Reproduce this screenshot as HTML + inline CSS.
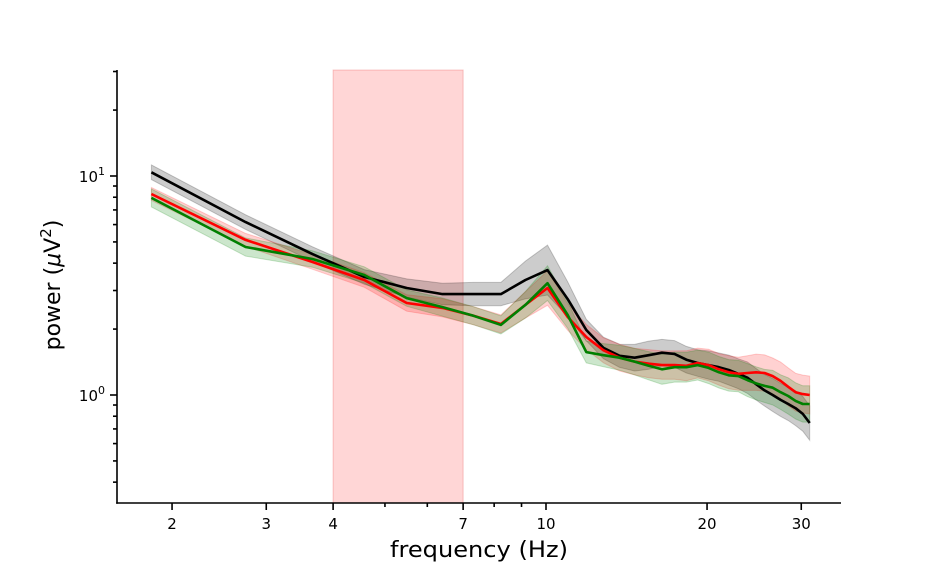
<!DOCTYPE html>
<html><head><meta charset="utf-8">
<style>
html,body{margin:0;padding:0;background:#fff;}
svg{display:block;font-family:"DejaVu Sans","Liberation Sans",sans-serif;}
</style></head>
<body>
<svg id="chart" width="936" height="576" viewBox="0 0 936 576" xmlns="http://www.w3.org/2000/svg">
<g id="bands"></g>
<g id="lines"></g>
<g id="axes"></g>
<text x="479" y="557" font-size="22" text-anchor="middle" textLength="178" lengthAdjust="spacingAndGlyphs">frequency (Hz)</text>
<text transform="translate(60,285) rotate(-90)" font-size="22" text-anchor="middle">power (<tspan font-style="italic">μ</tspan>V<tspan font-size="15" dy="-9">2</tspan><tspan dy="9">)</tspan></text>
</svg>
<script>
const freqStep = 0.915;
const freqIndex = [2,3,4,5,6,7,8,9,10,11,12,13,14,15,16,17,18,19,20,21,22,23,24,25,26,27,28,29,30,31,32,33,34];
const blackVals = [10.4,6.16,4.40,3.46,3.08,2.89,2.89,2.89,3.35,3.72,2.74,1.98,1.64,1.51,1.48,1.52,1.56,1.54,1.45,1.40,1.37,1.34,1.30,1.25,1.20,1.12,1.05,1.00,0.95,0.91,0.87,0.82,0.745];
const redVals = [8.28,5.11,4.05,3.35,2.63,2.50,2.30,2.11,2.58,3.08,2.27,1.84,1.60,1.48,1.42,1.39,1.37,1.37,1.36,1.40,1.37,1.31,1.27,1.25,1.26,1.27,1.26,1.22,1.16,1.09,1.03,1.01,1.00];
const greenVals = [7.94,4.74,4.18,3.53,2.77,2.52,2.30,2.09,2.58,3.24,2.32,1.57,1.52,1.48,1.42,1.36,1.31,1.34,1.34,1.37,1.33,1.27,1.23,1.22,1.17,1.13,1.10,1.08,1.03,0.99,0.94,0.91,0.91];
const blackErr = [1.08,1.08,1.08,1.08,1.10,1.12,1.13,1.13,1.22,1.30,1.20,1.12,1.12,1.13,1.15,1.16,1.15,1.15,1.15,1.15,1.16,1.16,1.17,1.17,1.18,1.18,1.18,1.19,1.19,1.19,1.20,1.20,1.20];
const redErr = [1.07,1.07,1.08,1.08,1.09,1.10,1.10,1.10,1.15,1.20,1.15,1.14,1.14,1.15,1.15,1.16,1.16,1.16,1.17,1.17,1.18,1.18,1.19,1.19,1.20,1.21,1.21,1.21,1.22,1.22,1.22,1.22,1.22];
const greenErr = [1.10,1.10,1.09,1.09,1.09,1.10,1.10,1.10,1.15,1.20,1.15,1.12,1.13,1.14,1.15,1.16,1.17,1.17,1.17,1.17,1.18,1.18,1.18,1.18,1.19,1.19,1.19,1.20,1.20,1.21,1.21,1.21,1.21];
const bandRange = [4,7];
const xTickLabels = [2,3,4,7,10,20,30];
const xMinorTicks = [5,6,8,9];
const yMajorTicks = [1,10];
const yMinorTicks = [0.4,0.5,0.6,0.7,0.8,0.9,2,3,4,5,6,7,8,9,20,30];

const NS="http://www.w3.org/2000/svg";
const L=117,R=841,T=70,B=503;
function xs(f){return 546+535*Math.log10(f/10);}
function ys(v){return 395-219*Math.log10(v);}
function mk(tag,parent){const e=document.createElementNS(NS,tag);parent.appendChild(e);return e;}
const bands=document.getElementById('bands'),lines=document.getElementById('lines'),axes=document.getElementById('axes');
const freqs=freqIndex.map(k=>k*freqStep);

const hb=mk('rect',bands);


hb.setAttribute('x',xs(bandRange[0]));hb.setAttribute('y',T);
hb.setAttribute('width',xs(bandRange[1])-xs(bandRange[0]));hb.setAttribute('height',B-T);
hb.setAttribute('fill','rgba(255,0,0,0.16)');hb.setAttribute('stroke','rgba(220,0,0,0.2)');

const series=[
 {name:'black',vals:blackVals,err:blackErr,col:'#000',fill:'rgba(0,0,0,0.2)'},
 {name:'red',vals:redVals,err:redErr,col:'#ff0000',fill:'rgba(255,0,0,0.18)'},
 {name:'green',vals:greenVals,err:greenErr,col:'#008000',fill:'rgba(0,128,0,0.2)'}
];
series.forEach(s=>{
  const up=freqs.map((f,i)=>xs(f).toFixed(1)+','+ys(s.vals[i]*s.err[i]).toFixed(1));
  const lo=freqs.map((f,i)=>xs(f).toFixed(1)+','+ys(s.vals[i]/s.err[i]).toFixed(1)).reverse();
  const p=mk('polygon',bands);
  
  
  p.setAttribute('points',up.concat(lo).join(' '));
  p.setAttribute('fill',s.fill);p.setAttribute('stroke',s.fill);
  const l=mk('polyline',lines);
  
  
  l.setAttribute('points',freqs.map((f,i)=>xs(f).toFixed(1)+','+ys(s.vals[i]).toFixed(1)).join(' '));
  l.setAttribute('fill','none');l.setAttribute('stroke',s.col);l.setAttribute('stroke-width','2.6');l.setAttribute('stroke-linejoin','round');
});

function line(x1,y1,x2,y2,name){const e=mk('line',axes);
  
  
  e.setAttribute('x1',x1);e.setAttribute('y1',y1);e.setAttribute('x2',x2);e.setAttribute('y2',y2);e.setAttribute('stroke','#000');e.setAttribute('stroke-width','1.6');return e;}
line(L,T,L,B+0.8,'y-axis-spine');
line(L-0.8,B,R,B,'x-axis-spine');
xTickLabels.forEach(f=>{const x=xs(f);line(x,B,x,B+7,'x-major-tick');
  const t=mk('text',axes);
  
  
  t.setAttribute('x',x);t.setAttribute('y',B+26);t.setAttribute('font-size','15');t.setAttribute('text-anchor','middle');t.textContent=f;});
xMinorTicks.forEach(f=>{const x=xs(f);line(x,B,x,B+4,'x-minor-tick');});
yMajorTicks.forEach(v=>{const y=ys(v);line(L-7,y,L,y,'y-major-tick');
  const t=mk('text',axes);
  
  
  t.setAttribute('x',L-12);t.setAttribute('y',y+6);t.setAttribute('font-size','15');t.setAttribute('text-anchor','end');
  t.innerHTML='10<tspan font-size="11" dy="-7">'+Math.round(Math.log10(v))+'</tspan>';});
yMinorTicks.forEach(v=>{const y=ys(v);line(L-4,y,L,y,'y-minor-tick');});
</script>
</body></html>
